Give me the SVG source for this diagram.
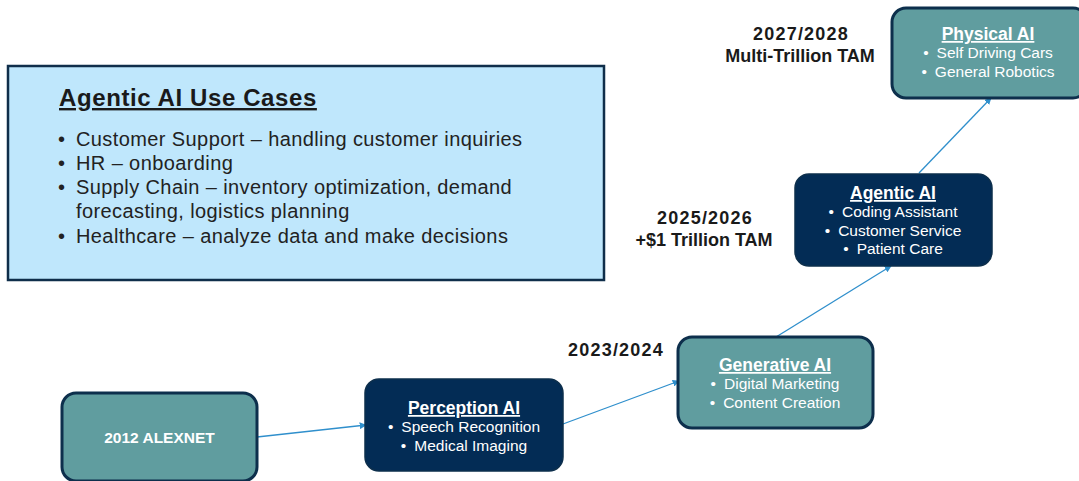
<svg xmlns="http://www.w3.org/2000/svg" width="1079" height="481" viewBox="0 0 1079 481">
  <style>
    .teal { fill: #609d9f; stroke: #0d2f4c; stroke-width: 3; }
    .navy { fill: #032c55; stroke: #0d2f4c; stroke-width: 1.5; }
    .title { font-family: "Liberation Sans", Arial, sans-serif; font-weight: bold; font-size: 17.5px; fill: #ffffff; text-anchor: middle; text-decoration: underline; }
    .item { font-family: "Liberation Sans", Arial, sans-serif; font-size: 15.5px; fill: #ffffff; text-anchor: middle; }
    .era { font-family: "Liberation Sans", Arial, sans-serif; font-weight: bold; font-size: 18px; fill: #1a1a1a; text-anchor: middle; }
    .yr { letter-spacing: 1.2px; }
    .use { font-family: "Liberation Sans", Arial, sans-serif; font-size: 20px; letter-spacing: 0.4px; fill: #222222; }
    .link { stroke: #2f8fcc; stroke-width: 1.3; fill: none; marker-end: url(#head); }
  </style>
  <defs>
    <marker id="head" viewBox="0 0 10 10" refX="9" refY="5" markerWidth="7" markerHeight="7" markerUnits="userSpaceOnUse" orient="auto">
      <path d="M0,0 L10,5 L0,10 z" fill="#2f8fcc"/>
    </marker>
  </defs>

  <rect width="1079" height="481" fill="#ffffff"/>

  <!-- use cases panel -->
  <g id="use-cases">
    <rect x="8" y="66" width="596" height="214" fill="#bfe7fc" stroke="#0f2e4a" stroke-width="2.5"/>
    <text x="59" y="106" font-family="Liberation Sans, Arial, sans-serif" font-weight="bold" font-size="24px" letter-spacing="0.6px" fill="#1a1a1a" text-decoration="underline">Agentic AI Use Cases</text>
    <g class="use">
      <text x="58" y="146">•</text><text x="76" y="146">Customer Support – handling customer inquiries</text>
      <text x="58" y="170">•</text><text x="76" y="170">HR – onboarding</text>
      <text x="58" y="194">•</text><text x="76" y="194">Supply Chain – inventory optimization, demand</text>
      <text x="76" y="218">forecasting, logistics planning</text>
      <text x="58" y="243">•</text><text x="76" y="243">Healthcare – analyze data and make decisions</text>
    </g>
  </g>

  <!-- connectors -->
  <g id="connectors">
    <line class="link" x1="257" y1="437" x2="366" y2="425"/>
    <line class="link" x1="563" y1="424" x2="679" y2="381"/>
    <line class="link" x1="776" y1="337" x2="891" y2="266"/>
    <line class="link" x1="919" y1="173" x2="991" y2="98"/>
  </g>

  <!-- milestone labels -->
  <g id="labels">
    <text class="era yr" x="616" y="356">2023/2024</text>
    <text class="era yr" x="705" y="224">2025/2026</text>
    <text class="era" x="704" y="246">+$1 Trillion TAM</text>
    <text class="era yr" x="801" y="40">2027/2028</text>
    <text class="era" x="800" y="62">Multi-Trillion TAM</text>
  </g>

  <g id="alexnet">
    <rect class="teal" x="62" y="393" width="195" height="88" rx="14"/>
    <text x="159.5" y="443" font-family="Liberation Sans, Arial, sans-serif" font-weight="bold" font-size="15.5px" fill="#ffffff" text-anchor="middle">2012 ALEXNET</text>
  </g>

  <g id="perception-ai">
    <rect class="navy" x="365" y="379" width="198" height="92" rx="14"/>
    <text class="title" x="464" y="414">Perception AI</text>
    <text class="item" x="464" y="432">•<tspan dx="8">Speech Recognition</tspan></text>
    <text class="item" x="464" y="451">•<tspan dx="8">Medical Imaging</tspan></text>
  </g>

  <g id="generative-ai">
    <rect class="teal" x="678" y="337" width="195" height="91" rx="14"/>
    <text class="title" x="775" y="371">Generative AI</text>
    <text class="item" x="775" y="389">•<tspan dx="8">Digital Marketing</tspan></text>
    <text class="item" x="775" y="408">•<tspan dx="8">Content Creation</tspan></text>
  </g>

  <g id="agentic-ai">
    <rect class="navy" x="795" y="174" width="197" height="92" rx="14"/>
    <text class="title" x="893" y="199">Agentic AI</text>
    <text class="item" x="893" y="217">•<tspan dx="8">Coding Assistant</tspan></text>
    <text class="item" x="893" y="236">•<tspan dx="8">Customer Service</tspan></text>
    <text class="item" x="893" y="254">•<tspan dx="8">Patient Care</tspan></text>
  </g>

  <g id="physical-ai">
    <rect class="teal" x="892" y="8" width="195" height="90" rx="14"/>
    <text class="title" x="988" y="40">Physical AI</text>
    <text class="item" x="988" y="58">•<tspan dx="8">Self Driving Cars</tspan></text>
    <text class="item" x="988" y="77">•<tspan dx="8">General Robotics</tspan></text>
  </g>
</svg>
